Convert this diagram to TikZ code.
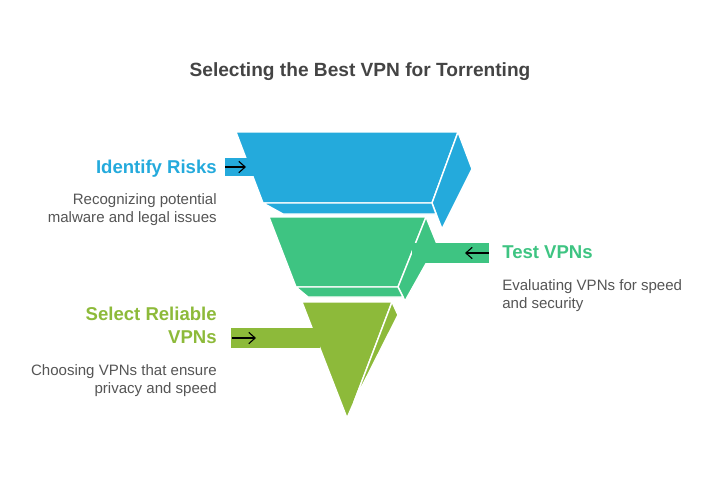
\documentclass[tikz,border=0pt]{standalone}
\usepackage{fontspec}
\setmainfont{Liberation Sans}
\usetikzlibrary{positioning,arrows.meta}
\definecolor{riskblue}{RGB}{36,170,220}
\definecolor{testgreen}{RGB}{62,196,130}
\definecolor{pickolive}{RGB}{141,186,58}
\definecolor{titlegray}{RGB}{68,68,68}
\definecolor{textgray}{RGB}{85,85,85}
\tikzset{
  face/.style={draw=white, line width=1pt, line join=miter},
  heading/.style={font=\fontsize{13.2}{16.3}\selectfont\bfseries, inner sep=0pt},
  blurb/.style={font=\fontsize{10.7}{12.8}\selectfont, text=textgray, inner sep=0pt},
  pointer/.style={-{Straight Barb[length=4.5pt,width=8pt]}, line width=0.8pt, black},
}
\begin{document}
\begin{tikzpicture}[x=0.025cm, y=-0.025cm]
\useasboundingbox (0,0) rectangle (720,480);
\node[font=\fontsize{13.6}{16}\selectfont\bfseries, text=titlegray, inner sep=0pt, anchor=base] (title) at (360,76) {Selecting the Best VPN for Torrenting};
% top tier
\filldraw[face, fill=riskblue] (236,132) -- (458,132) -- (432,203) -- (263,203) -- cycle;
\filldraw[face, fill=riskblue] (458,132) -- (472,169) -- (442,229) -- (432,203) -- cycle;
\filldraw[face, fill=riskblue] (263,203) -- (432,203) -- (436,214) -- (283,214) -- cycle;
\fill[riskblue] (225,158) rectangle (256,176);
% middle tier
\filldraw[face, fill=testgreen] (269,217) -- (426,217) -- (398,287) -- (296,287) -- cycle;
\filldraw[face, fill=testgreen] (426,217) -- (437,244) -- (405,301) -- (398,287) -- cycle;
\filldraw[face, fill=testgreen] (296,287) -- (398,287) -- (403,297) -- (308,297) -- cycle;
\fill[testgreen] (412,243) rectangle (489,263);
% bottom tier
\filldraw[face, fill=pickolive] (302,302) -- (392,302) -- (354,402) -- (347,418) -- cycle;
\filldraw[face, fill=pickolive] (392,302) -- (398,315) -- (354,402) -- cycle;
\fill[pickolive] (231,328) rectangle (320,348);
% pointers
\coordinate (riskA) at (225,167);
\coordinate (riskB) at (246,167);
\coordinate (testA) at (489,253);
\coordinate (testB) at (465,253);
\coordinate (pickA) at (232,338);
\coordinate (pickB) at (256,338);
\draw[pointer] (riskA) -- (riskB);
\draw[pointer] (testA) -- (testB);
\draw[pointer] (pickA) -- (pickB);
% labels
\node[heading, text=riskblue, anchor=base east] (riskhead) at (217,173) {Identify Risks};
\node[blurb, align=right, anchor=north east] (risktext) at (217,193) {Recognizing potential\\malware and legal issues};
\node[heading, text=testgreen, anchor=base west] (testhead) at (502,258) {Test VPNs};
\node[blurb, align=left, anchor=north west] (testtext) at (502,279) {Evaluating VPNs for speed\\and security};
\node[heading, text=pickolive, align=right, anchor=north east] (pickhead) at (217,307) {Select Reliable\\VPNs};
\node[blurb, align=right, anchor=north east] (picktext) at (217,364) {Choosing VPNs that ensure\\privacy and speed};
\end{tikzpicture}
\end{document}
